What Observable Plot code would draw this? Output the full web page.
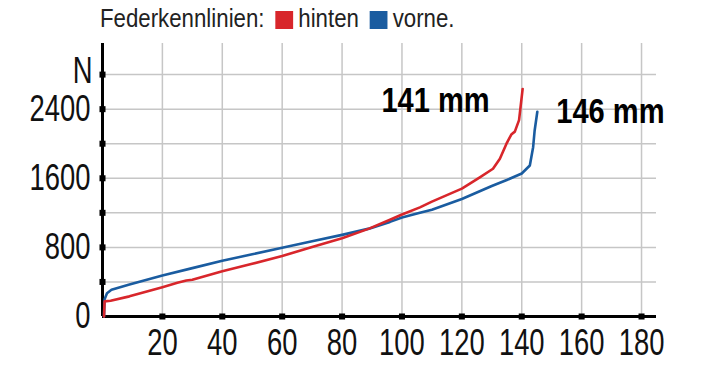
<!DOCTYPE html>
<html>
<head>
<meta charset="utf-8">
<script src="https://cdn.jsdelivr.net/npm/d3@7"></script>
<script src="https://cdn.jsdelivr.net/npm/@observablehq/plot@0.6"></script>
<style>
  html, body { margin: 0; padding: 0; background: #fff; }
  #legend {
    height: 36px; box-sizing: border-box; padding-left: 100px; padding-top: 5px;
    font-family: 'Liberation Sans', Arial, sans-serif;
    font-size: 25px; color: #222; line-height: 26px; white-space: nowrap; overflow: hidden;
  }
  #legend .inner { display: inline-block; transform: scaleX(0.89); transform-origin: 0 0; }
  #legend .sw { display: inline-block; width: 20px; height: 18px; vertical-align: -2px; margin: 0 6px 0 5px; }
</style>
</head>
<body>
<div id="legend"><span class="inner"></span></div>
<div id="chart"></div>
<script>
// ---- data ----
const legendTitle = "Federkennlinien:";
const seriesNames = ["hinten", "vorne"];
const seriesColors = ["#d8262b", "#1a5ca0"];
const endLabels = ["141 mm", "146 mm"];

const hintenX = [0.5, 0.7, 2.7, 9, 20, 25, 28, 30, 40, 50, 60, 70, 80, 89, 96, 100, 106, 110, 120, 126, 130.4, 132.7, 134.9, 136.6, 137.7, 139.1, 140.3];
const hintenY = [0, 175, 183, 233, 340, 390, 416, 425, 524, 610, 700, 805, 905, 1017, 1120, 1180, 1263, 1330, 1480, 1610, 1710, 1826, 2000, 2110, 2140, 2273, 2634];

const vorneX = [0.5, 0.7, 1.5, 3, 9, 20, 30, 40, 50, 60, 70, 80, 89, 96, 100, 106, 110, 120, 130, 135, 140, 142.7, 143.8, 144.3, 145.2];
const vorneY = [0, 200, 270, 310, 370, 475, 560, 645, 720, 795, 870, 945, 1017, 1095, 1145, 1200, 1235, 1360, 1510, 1580, 1655, 1748, 1960, 2150, 2370];

const xTicks = [20, 40, 60, 80, 100, 120, 140, 160, 180];
const yTicks = [400, 800, 1200, 1600, 2000, 2400, 2800];
const yLabels = [0, 800, 1600, 2400];
const yUnit = "N";

// ---- legend ----
const legend = document.querySelector("#legend .inner");
legend.append(legendTitle + " ");
seriesNames.forEach((n, i) => {
  const sw = document.createElement("span");
  sw.className = "sw";
  sw.style.background = seriesColors[i];
  legend.append(sw);
  legend.append(n + (i === seriesNames.length - 1 ? "." : " "));
});

// ---- table ----
const data = [
  ...vorneX.map((x, i) => ({s: "vorne", x, y: vorneY[i]})),
  ...hintenX.map((x, i) => ({s: "hinten", x, y: hintenY[i]}))
];
const lastH = {x: hintenX[hintenX.length - 1], y: hintenY[hintenY.length - 1], t: endLabels[0]};
const lastV = {x: vorneX[vorneX.length - 1], y: vorneY[vorneY.length - 1], t: endLabels[1]};

const chart = Plot.plot({
  width: 712,
  height: 346,
  marginLeft: 102,
  marginRight: 56,
  marginTop: 7,
  marginBottom: 66,
  style: {fontFamily: "'Liberation Sans', Arial, sans-serif", background: "white", color: "#111", overflow: "visible"},
  x: {domain: [0, 185]},
  y: {domain: [0, 3160]},
  color: {domain: seriesNames, range: seriesColors},
  marks: [
    Plot.gridX(xTicks, {stroke: "#c6c6c6", strokeOpacity: 1, strokeWidth: 1.5}),
    Plot.gridY(yTicks, {stroke: "#c6c6c6", strokeOpacity: 1, strokeWidth: 1.5}),
    Plot.axisX(xTicks, {tickSize: 0, tickPadding: 12, fontSize: 37, label: null, fill: "#111", tickFormat: d => String(d), className: "sq"}),
    Plot.axisY(yLabels, {tickSize: 0, tickPadding: 12, fontSize: 37, label: null, fill: "#111", tickFormat: d => String(d), className: "sq"}),
    Plot.ruleX([0], {stroke: "#000", strokeWidth: 3}),
    Plot.ruleY([0], {stroke: "#000", strokeWidth: 3}),
    Plot.dot(yTicks, {y: d => d, frameAnchor: "left", symbol: "square", r: 3.4, fill: "#000", stroke: null}),
    Plot.dot(xTicks, {x: d => d, frameAnchor: "bottom", symbol: "square", r: 3.4, fill: "#000", stroke: null}),
    Plot.line(data, {x: "x", y: "y", z: "s", stroke: "s", strokeWidth: 2.6, curve: "linear"}),
    Plot.text([lastH], {x: "x", y: "y", text: "t", textAnchor: "end", dx: -33, dy: 12, fontSize: 35, fontWeight: "bold", fill: "#000", className: "sqb"}),
    Plot.text([lastV], {x: "x", y: "y", text: "t", textAnchor: "start", dx: 19, dy: 0, fontSize: 35, fontWeight: "bold", fill: "#000", className: "sqb"}),
    Plot.text([yUnit], {text: d => d, frameAnchor: "top-left", textAnchor: "end", dx: -10, dy: 13, fontSize: 37, fill: "#111", className: "sq"})
  ]
});
document.getElementById("chart").append(chart);

// condensed look: squeeze glyphs horizontally
function squeeze(sel, f) {
  chart.querySelectorAll(sel).forEach(t => {
    const len = t.getComputedTextLength();
    if (len > 0) {
      t.setAttribute("textLength", (len * f).toFixed(1));
      t.setAttribute("lengthAdjust", "spacingAndGlyphs");
    }
  });
}
squeeze(".sq text", 0.74);
squeeze(".sqb text", 0.83);
</script>
</body>
</html>
